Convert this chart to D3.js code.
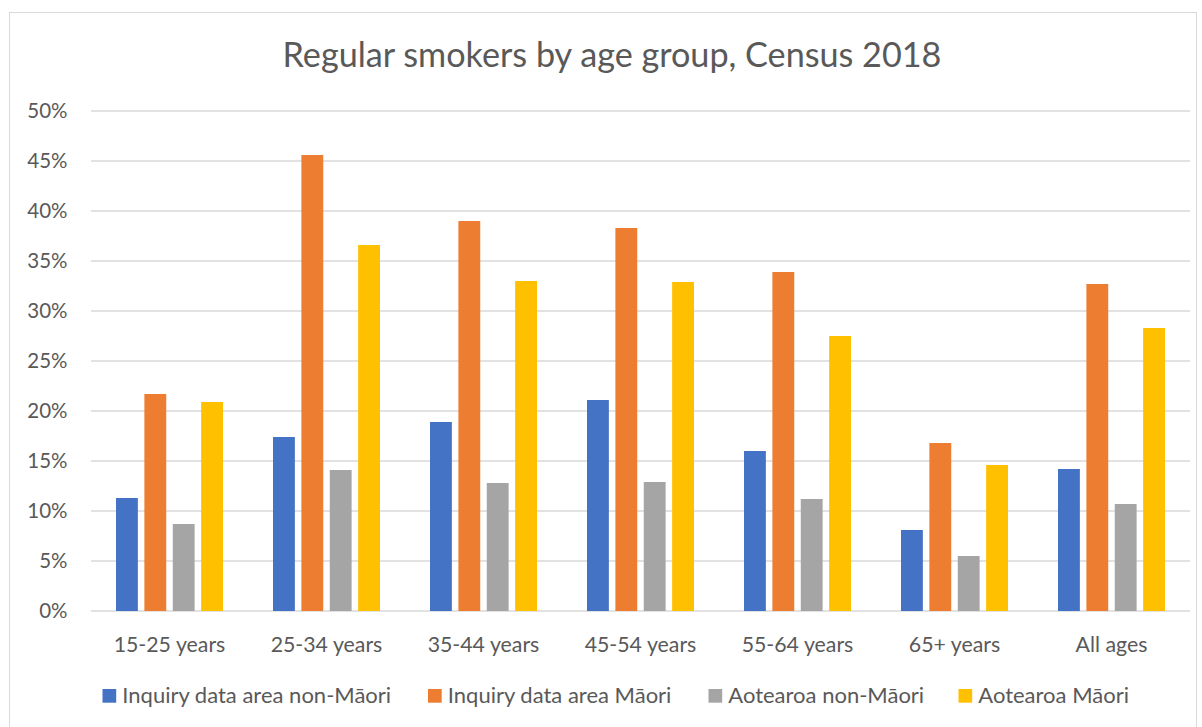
<!DOCTYPE html>
<html>
<head>
<meta charset="utf-8">
<script src="https://cdn.jsdelivr.net/npm/d3@7"></script>
<style>
  body { margin: 0; background: #fff; }
  text { font-family: Lato, "Noto Sans", sans-serif; fill: #595959; }
</style>
</head>
<body>
<script>
const categories = ["15-25 years", "25-34 years", "35-44 years", "45-54 years", "55-64 years", "65+ years", "All ages"];
const seriesNames = ["Inquiry data area non-Māori", "Inquiry data area Māori", "Aotearoa non-Māori", "Aotearoa Māori"];
const inquiryNonMaori = [11.3, 17.4, 18.9, 21.1, 16.0, 8.1, 14.2];
const inquiryMaori = [21.7, 45.6, 39.0, 38.3, 33.9, 16.8, 32.7];
const aotearoaNonMaori = [8.7, 14.1, 12.8, 12.9, 11.2, 5.5, 10.7];
const aotearoaMaori = [20.9, 36.6, 33.0, 32.9, 27.5, 14.6, 28.3];
const yTicks = [0, 5, 10, 15, 20, 25, 30, 35, 40, 45, 50];
const colors = ["#4472C4", "#ED7D31", "#A5A5A5", "#FFC000"];

const allSeries = [inquiryNonMaori, inquiryMaori, aotearoaNonMaori, aotearoaMaori];

const width = 1202, height = 727;
const plot = { left: 91, right: 1190, top: 111, bottom: 611 };

const svg = d3.select("body").append("svg")
    .attr("width", width)
    .attr("height", height);

// chart frame
svg.append("rect")
    .attr("x", 9.5).attr("y", 12.5)
    .attr("width", 1187).attr("height", 730)
    .attr("fill", "#fff")
    .attr("stroke", "#d9d9d9");

const y = d3.scaleLinear().domain([0, 50]).range([plot.bottom, plot.top]);
const x0 = d3.scaleBand().domain(categories).range([plot.left, plot.right]);
const x1 = d3.scaleBand().domain(d3.range(4))
    .range([25, x0.bandwidth() - 25]).paddingInner(0.23);

// gridlines
svg.append("g").selectAll("line")
    .data(yTicks)
    .enter().append("line")
    .attr("x1", plot.left).attr("x2", plot.right)
    .attr("y1", d => y(d)).attr("y2", d => y(d))
    .attr("stroke", "#d9d9d9")
    .attr("stroke-width", 1.3);

// y labels
svg.append("g").selectAll("text")
    .data(yTicks)
    .enter().append("text")
    .attr("x", 67.5)
    .attr("y", d => y(d))
    .attr("dy", "0.36em")
    .attr("text-anchor", "end")
    .style("font-size", "20.5px")
    .text(d => d + "%");

// bars
const groups = svg.append("g").selectAll("g")
    .data(categories)
    .enter().append("g")
    .attr("transform", d => "translate(" + x0(d) + ",0)");

groups.selectAll("rect")
    .data((d, i) => allSeries.map((s, k) => ({ k: k, v: s[i] })))
    .enter().append("rect")
    .attr("x", d => x1(d.k))
    .attr("width", x1.bandwidth())
    .attr("y", d => y(d.v))
    .attr("height", d => y(0) - y(d.v))
    .attr("fill", d => colors[d.k]);

// category labels
svg.append("g").selectAll("text")
    .data(categories)
    .enter().append("text")
    .attr("x", d => x0(d) + x0.bandwidth() / 2)
    .attr("y", 652)
    .attr("text-anchor", "middle")
    .style("font-size", "21.3px")
    .text(d => d);

// title
svg.append("text")
    .attr("x", 612)
    .attr("y", 67)
    .attr("text-anchor", "middle")
    .style("font-size", "34.2px")
    .text("Regular smokers by age group, Census 2018");

// legend
const legendX = [102.5, 428, 708.5, 958.5];
const legend = svg.append("g").selectAll("g")
    .data(seriesNames)
    .enter().append("g")
    .attr("transform", (d, i) => "translate(" + legendX[i] + ",689)");

legend.append("rect")
    .attr("width", 13.7).attr("height", 13.7)
    .attr("fill", (d, i) => colors[i]);

legend.append("text")
    .attr("x", 19.8)
    .attr("y", 14)
    .style("font-size", "22px")
    .text(d => d);
</script>
</body>
</html>
